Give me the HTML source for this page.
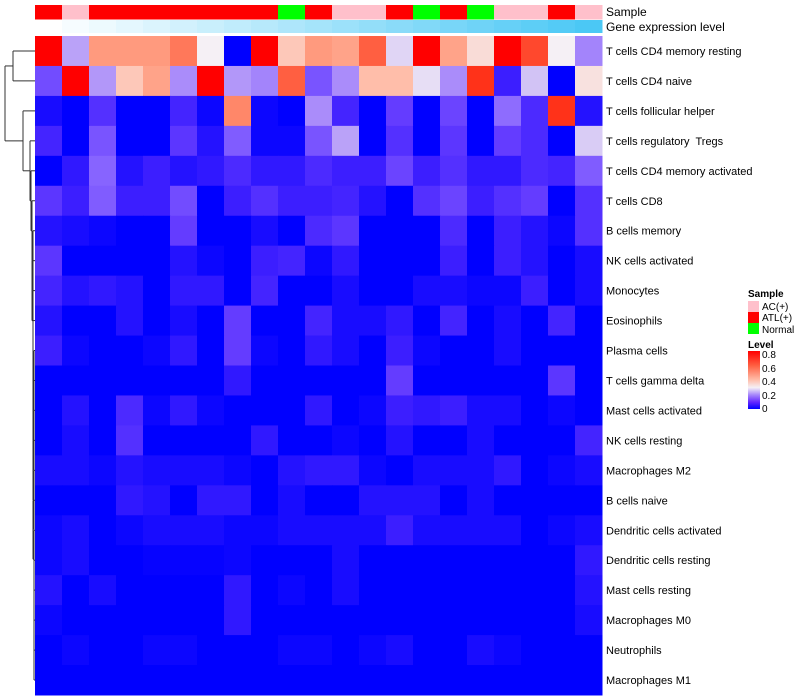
<!DOCTYPE html>
<html><head><meta charset="utf-8"><style>
body{margin:0;background:#fff;}
svg{display:block;font-family:"Liberation Sans",sans-serif;}
#rowlabels text{white-space:pre;}
</style></head><body>
<svg id="chart" width="800" height="700">
<g id="dendro" stroke="#333" stroke-width="1" fill="none"></g>
<g id="annot"></g>
<g id="cells"></g>
<g id="rowlabels" font-size="11" fill="#000"></g>
<text x="606" y="16" font-size="12">Sample</text>
<text x="606" y="31" font-size="12">Gene expression level</text>
<g id="legend" font-size="10">
<text x="748" y="297" font-weight="bold">Sample</text>
<rect x="748" y="301" width="11" height="11" fill="#FFC0CB"/>
<text x="762" y="310">AC(+)</text>
<rect x="748" y="312" width="11" height="11" fill="#FF0000"/>
<text x="762" y="321">ATL(+)</text>
<rect x="748" y="323" width="11" height="11" fill="#00FF00"/>
<text x="762" y="333">Normal</text>
<text x="748" y="348" font-weight="bold">Level</text>
<defs><linearGradient id="lg" x1="0" y1="1" x2="0" y2="0">
<stop offset="0" stop-color="#0000ff"/><stop offset="0.12" stop-color="#6428ff"/><stop offset="0.25" stop-color="#aa8cfa"/><stop offset="0.37" stop-color="#f5f0f5"/><stop offset="0.5" stop-color="#ffbeaa"/><stop offset="0.75" stop-color="#ff5f41"/><stop offset="1" stop-color="#ff0000"/></linearGradient></defs>
<rect x="748" y="351" width="12" height="58" fill="url(#lg)"/>
<text x="762" y="358">0.8</text>
<text x="762" y="372">0.6</text>
<text x="762" y="385">0.4</text>
<text x="762" y="399">0.2</text>
<text x="762" y="412">0</text>
</g>
</svg>
<script>
const rowNames = ["T cells CD4 memory resting","T cells CD4 naive","T cells follicular helper","T cells regulatory  Tregs","T cells CD4 memory activated","T cells CD8","B cells memory","NK cells activated","Monocytes","Eosinophils","Plasma cells","T cells gamma delta","Mast cells activated","NK cells resting","Macrophages M2","B cells naive","Dendritic cells activated","Dendritic cells resting","Mast cells resting","Macrophages M0","Neutrophils","Macrophages M1"];
const sampleGroups = ["ATL","AC","ATL","ATL","ATL","ATL","ATL","ATL","ATL","Normal","ATL","AC","AC","ATL","Normal","ATL","Normal","AC","AC","ATL","AC"];
const geneExpr = [0,1,2,3,4,5,6,7,8,9,10,11,12,13,14,15,16,17,18,19,20];
const r1=[.8,.22,.48,.48,.48,.55,.3,0,.8,.38,.48,.46,.6,.27,.8,.46,.34,.8,.65,.3,.19];
const r2=[.12,.8,.21,.38,.46,.2,.8,.21,.19,.6,.13,.2,.4,.4,.28,.2,.7,.05,.25,0,.33];
const r3=[.02,0,.08,0,0,.06,.01,.52,.01,0,.2,.06,0,.1,0,.11,0,.16,.07,.7,.03];
const r4=[.06,0,.13,0,0,.09,.03,.14,.01,.01,.13,.22,0,.08,0,.09,0,.1,.07,0,.26];
const r5=[0,.04,.15,.03,.05,.03,.04,.07,.04,.04,.07,.05,.05,.11,.05,.08,.04,.04,.07,.06,.14];
const r6=[.09,.05,.14,.05,.05,.12,0,.05,.08,.05,.05,.06,.03,0,.08,.11,.05,.08,.1,0,.08];
const r7=[.03,.02,.01,0,0,.1,0,0,.02,0,.07,.09,0,0,0,.07,0,.05,.03,.01,.08];
const r8=[.09,0,0,0,0,.03,.01,0,.05,.06,.01,.04,0,0,0,.05,0,.05,.03,0,.02];
const r9=[.06,.03,.04,.03,0,.04,.04,0,.06,0,0,.02,0,0,.02,.02,.01,.01,.05,0,.02];
const r10=[.03,0,0,.03,0,.02,0,.1,0,0,.06,.02,.02,.04,0,.06,0,.02,0,.06,0];
const r11=[.05,.01,0,0,.01,.04,0,.1,.01,0,.04,.02,0,.05,.01,0,0,.02,0,0,0];
const r12=[0,0,0,0,0,0,0,.04,0,0,0,0,0,.1,0,0,0,0,0,.09,0];
const r13=[0,.03,0,.07,.01,.04,.01,0,0,0,.04,0,.01,.05,.04,.05,.02,.02,0,.01,0];
const r14=[0,.02,0,.08,0,0,0,0,.04,0,0,.01,0,.03,0,0,.02,0,0,0,.06];
const r15=[.02,.02,.01,.03,.02,.02,.02,.01,0,.03,.04,.04,.01,0,.02,.02,.02,.04,0,.01,.02];
const r16=[0,0,0,.04,.03,0,.04,.04,0,.02,0,0,.03,.03,.03,0,.02,0,0,0,0];
const r17=[.01,.02,0,.01,.02,.02,.02,.01,.01,.02,.02,.02,.02,.05,.02,.02,.02,.02,0,.01,.02];
const r18=[.01,.02,0,0,.005,.005,.005,.01,0,0,0,.02,0,0,0,0,0,0,0,0,.04];
const r19=[.03,0,.02,0,0,0,0,.04,0,.01,0,.02,0,0,0,0,0,0,0,0,.03];
const r20=[.01,0,0,0,0,0,0,.04,0,0,0,0,0,0,0,0,0,0,0,0,.02];
const r21=[0,.01,0,0,.01,.01,0,0,0,.01,.01,0,.01,.02,0,0,.02,.01,0,0,0];
const r22=[0,0,0,0,0,0,0,0,0,0,0,0,0,0,0,0,0,0,0,0,0];
const values=[r1,r2,r3,r4,r5,r6,r7,r8,r9,r10,r11,r12,r13,r14,r15,r16,r17,r18,r19,r20,r21,r22];

const NS="http://www.w3.org/2000/svg";
const X0=35,X1=602,Y0=36,Y1=695;
const nC=sampleGroups.length,nR=rowNames.length;
const cw=(X1-X0)/nC,rh=(Y1-Y0)/nR;
const xPos=i=>X0+i*cw, yPos=j=>Y0+j*rh;
const stops=[[0,[0,0,255]],[.05,[60,30,255]],[.1,[100,60,255]],[.15,[135,100,255]],[.2,[170,140,250]],[.25,[210,195,245]],[.3,[245,240,245]],[.4,[255,190,170]],[.5,[255,145,115]],[.6,[255,95,65]],[.7,[255,50,25]],[.8,[255,0,0]]];
function col(v){v=Math.max(0,Math.min(.8,v));for(let k=1;k<stops.length;k++){if(v<=stops[k][0]){const a=stops[k-1],b=stops[k],t=(v-a[0])/(b[0]-a[0]);return "rgb("+a[1].map((c,i)=>Math.round(c+(b[1][i]-c)*t)).join(",")+")";}}return "rgb(255,0,0)";}
function mk(tag,attrs,parent){const e=document.createElementNS(NS,tag);for(const k in attrs)e.setAttribute(k,attrs[k]);parent.appendChild(e);return e;}
const sampleColor={ATL:"#FF0000",AC:"#FFC0CB",Normal:"#00FF00"};
const annot=document.getElementById('annot');
const gMax=Math.max(...geneExpr);
sampleGroups.forEach((g,i)=>{
  const r=mk('rect',{x:xPos(i),y:5,width:cw+0.5,height:14.5,fill:sampleColor[g]},annot);
  
  
  const t=geneExpr[i]/gMax;
  const c=[255+(75-255)*t,255+(200-255)*t,255+(245-255)*t].map(Math.round);
  const r2=mk('rect',{x:xPos(i),y:20,width:cw+0.5,height:13,fill:"rgb("+c.join(",")+")"},annot);
  
  
});
const cells=document.getElementById('cells');
values.forEach((row,j)=>row.forEach((v,i)=>{
  const r=mk('rect',{x:xPos(i),y:yPos(j),width:cw+0.5,height:rh+0.5,fill:col(v)},cells);
  
  
}));
const rl=document.getElementById('rowlabels');
rowNames.forEach((n,j)=>{
  const t=mk('text',{x:606,y:yPos(j)+rh/2+4},rl);t.textContent=n;
  
  
});
const d=document.getElementById('dendro');
const cy=j=>yPos(j)+rh/2;
function ln(x1,y1,x2,y2){const l=mk('line',{x1,y1,x2,y2},d);}
ln(13,cy(0),35,cy(0));ln(13,cy(1),35,cy(1));ln(13,cy(0),13,cy(1));
const pairMid=(cy(0)+cy(1))/2;
ln(5,pairMid,13,pairMid);
let xs=[23,30,31,32,33,32,33,33,34,33,34,33,34,33,34,34,34,34,34,34];
let curY=cy(21),curX=34;
ln(34,cy(21),35,cy(21));
for(let j=20;j>=2;j--){
  const x=xs[j-2];
  ln(x,cy(j),35,cy(j));
  ln(x,cy(j),x,curY);
  ln(Math.min(x,curX),curY,curX,curY);
  curY=(cy(j)+curY)/2;curX=x;
}
ln(5,pairMid,5,curY);ln(5,curY,curX,curY);
</script>
</body></html>
